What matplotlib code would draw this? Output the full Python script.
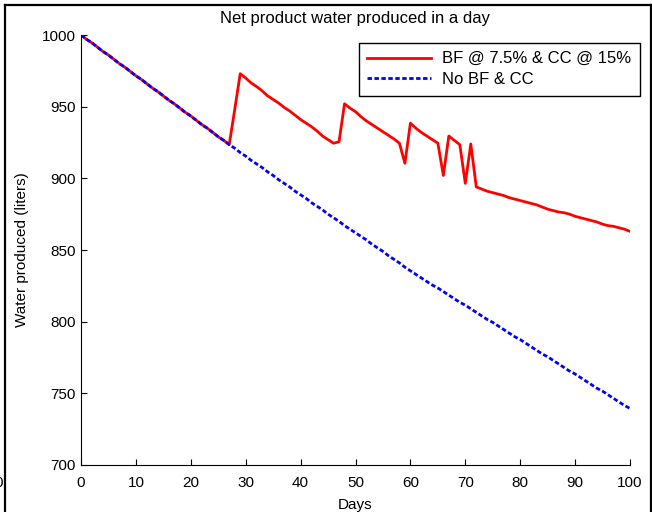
import matplotlib
matplotlib.use("Agg")
import matplotlib.pyplot as plt
from matplotlib.lines import Line2D

plt.rcParams['font.family'] = ['Liberation Sans', 'DejaVu Sans']

days = list(range(0, 101))

no_bf_cc = [
    1000, 997, 994.5, 991.5, 988.5, 986, 983, 980, 977.5, 974.5,
    971.5, 969, 966, 963, 960.5, 957.5, 954.5, 952, 949, 946,
    943.5, 940.5, 937.5, 935, 932, 929, 926.5, 923.5, 921, 918,
    915.5, 912.5, 910, 907.5, 904.5, 902, 899, 896.5, 894, 891,
    888.5, 886, 883, 880.5, 878, 875, 872.5, 870, 867, 864.5,
    862, 859.5, 857, 854, 851.5, 849, 846, 843.5, 841, 838,
    835.5, 833, 830.5, 828, 825.5, 823.5, 821, 818.5, 816, 813.5,
    811.5, 809, 806.5, 804, 801.5, 799.5, 797, 794.5, 792, 789.5,
    787.5, 785, 782.5, 780, 777.5, 775.5, 773, 770.5, 768, 765.5,
    763.5, 761, 758.5, 756, 753.5, 751.5, 749, 746.5, 744, 741.5,
    739.5,
]

bf_cc_tail = [
    948, 973, 970, 966.5, 964, 961, 957.5, 955, 952.5, 949.5,
    947, 944, 941, 938.5, 936, 933, 929.5, 927, 924.5, 925.5,
    952, 949, 946.5, 943, 940, 937.5, 935, 932.5, 930, 927.5,
    924.5, 910.5, 938.5, 935, 932, 929.5, 927, 924.5, 902, 929.5,
    926.5, 923.5, 896.5, 924, 894, 892.5, 891, 890, 889, 888,
    886.5, 885.5, 884.5, 883.5, 882.5, 881.5, 880, 878.5, 877.5, 876.5,
    876, 875, 873.5, 872.5, 871.5, 870.5, 869.5, 868, 867, 866.5,
    865.5, 864.5, 863,
]
bf_cc = no_bf_cc[:28] + bf_cc_tail

fig = plt.figure(figsize=(6.52, 5.12), dpi=100)
ax = fig.add_axes([81/652, 1-465/512, (630-81)/652, (465-35)/512])

ax.plot(days, bf_cc, color='#ff0000', lw=2.0, label='BF @ 7.5% & CC @ 15%')
ax.plot(days, no_bf_cc, color='#0000ff', lw=2.0, ls='--', dashes=(1.6, 0.9),
        label='No BF & CC')

ax.set_xlim(0, 100)
ax.set_ylim(700, 1000)
ax.set_xticks(range(0, 101, 10))
ax.set_yticks(range(700, 1001, 50))
for s in ['top', 'right']:
    ax.spines[s].set_visible(False)
for s in ['left', 'bottom']:
    ax.spines[s].set_linewidth(0.8)
ax.tick_params(direction='in', length=4, width=0.8, labelsize=11, colors='black')
ax.tick_params(axis='x', pad=8)
ax.tick_params(axis='y', pad=4)

ax.set_title('Net product water produced in a day', fontsize=12, pad=9)
ax.set_xlabel('Days', fontsize=11, labelpad=6)
ax.set_ylabel('Water produced (liters)', fontsize=11, labelpad=9)

leg = ax.legend(loc='upper left', bbox_to_anchor=(359/652, 1-43/512),
                bbox_transform=fig.transFigure, borderaxespad=0,
                fancybox=False, edgecolor='black', framealpha=1,
                fontsize=12, handlelength=3.8, handletextpad=0.7,
                borderpad=0.5, labelspacing=0.35)
leg.get_frame().set_linewidth(1.0)

# outer frame of the screenshot
fig.add_artist(Line2D([5/652, 5/652], [0, 1-5/512], transform=fig.transFigure,
                      color='black', lw=1.6))
fig.add_artist(Line2D([5/652, 651/652], [1-5/512, 1-5/512], transform=fig.transFigure,
                      color='black', lw=1.6))
fig.add_artist(Line2D([651/652, 651/652], [0, 1-5/512], transform=fig.transFigure,
                      color='black', lw=1.6))
fig.text(3/652, 1-483/512, '0', fontsize=11, ha='right', va='center')

fig.savefig('out.png', dpi=100)
